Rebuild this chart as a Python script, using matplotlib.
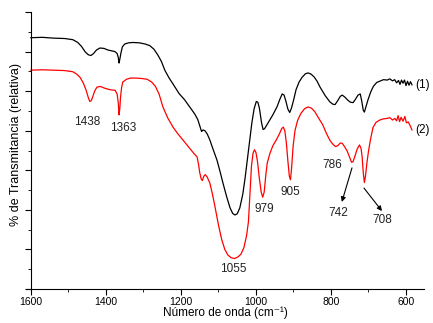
import numpy as np
import matplotlib.pyplot as plt
from matplotlib.ticker import MultipleLocator

plt.rcParams['font.family'] = ['Liberation Sans', 'DejaVu Sans']

# espectro (1)
wn1 = [1600, 1570, 1540, 1510, 1488, 1475, 1465, 1455, 1447, 1440, 1433, 1425,
       1416, 1405, 1395, 1385, 1376, 1370, 1367, 1365, 1363, 1360, 1356, 1350,
       1340, 1328, 1310, 1295, 1283, 1272, 1262, 1252, 1243, 1232, 1221, 1205,
       1190, 1175, 1163, 1155, 1149, 1145, 1141, 1136, 1130, 1123, 1115, 1104,
       1096, 1088, 1078, 1069, 1062, 1056, 1050, 1043, 1035, 1029, 1024, 1018,
       1011, 1005, 999, 995, 991, 985, 981, 977, 970, 963, 955, 944, 936, 930,
       925, 920, 915, 910, 905, 900, 893, 885, 877, 868, 861, 853, 845, 837,
       829, 815, 803, 795, 789, 782, 775, 770, 763, 755, 748, 741, 735, 728,
       722, 718, 714, 711, 707, 701, 694, 687, 678, 668, 660, 650, 643, 636,
       630, 625, 620, 616, 612, 608, 604, 600, 596, 592, 588, 584]
t1 = [63.5, 63.6, 63.4, 63.3, 63.0, 62.3, 61.3, 59.9, 59.2, 59.0, 59.5, 60.4,
      60.9, 60.8, 60.4, 60.2, 60.0, 59.5, 58.5, 57.1, 58.0, 59.6, 61.2, 61.9,
      62.2, 62.3, 62.2, 61.9, 61.5, 60.6, 59.2, 57.5, 55.3, 53.4, 51.8, 49.4,
      47.8, 45.8, 44.2, 42.8, 41.0, 39.8, 40.2, 40.0, 39.2, 37.7, 35.5, 32.6,
      29.8, 26.8, 23.3, 20.5, 19.1, 18.7, 19.0, 20.5, 24.0, 28.0, 31.8, 36.5,
      41.9, 45.5, 47.4, 47.2, 45.8, 42.0, 40.3, 40.5, 41.6, 42.7, 44.0, 46.0,
      48.0, 49.3, 49.0, 47.4, 45.5, 44.6, 45.8, 47.6, 50.4, 52.3, 53.5, 54.4,
      54.6, 54.3, 53.6, 52.5, 51.0, 48.8, 47.3, 46.7, 46.6, 47.6, 48.7, 49.0,
      48.5, 47.7, 47.2, 47.1, 47.9, 49.0, 49.3, 47.5, 45.2, 44.7, 46.0, 47.9,
      49.8, 51.2, 52.2, 52.6, 52.9, 52.8, 53.1, 52.6, 52.9, 52.1, 52.7, 51.7,
      52.8, 52.0, 52.8, 51.4, 52.5, 51.5, 52.4, 51.6]

# espectro (2)
wn2 = [1600, 1570, 1540, 1510, 1488, 1478, 1469, 1460, 1453, 1447, 1443, 1439,
       1435, 1430, 1424, 1415, 1405, 1395, 1385, 1375, 1370, 1367, 1365, 1363,
       1361, 1358, 1355, 1345, 1335, 1320, 1305, 1290, 1278, 1268, 1258, 1248,
       1235, 1221, 1208, 1195, 1180, 1165, 1157, 1153, 1150, 1146, 1143, 1139,
       1135, 1130, 1123, 1116, 1109, 1100, 1091, 1083, 1075, 1066, 1057, 1048,
       1040, 1032, 1025, 1020, 1016, 1012, 1008, 1004, 1000, 996, 991, 986,
       982, 978, 974, 970, 963, 955, 945, 937, 931, 927, 923, 919, 915, 911,
       908, 905, 901, 896, 889, 880, 870, 861, 852, 843, 833, 822, 812, 803,
       795, 788, 782, 775, 770, 764, 757, 750, 745, 741, 736, 730, 724, 720,
       717, 714, 711, 708, 704, 700, 695, 688, 680, 670, 660, 650, 643, 636,
       630, 625, 621, 617, 613, 608, 603, 599, 594, 589, 584]
t2 = [55.3, 55.4, 55.3, 55.2, 54.9, 54.3, 53.5, 52.0, 50.3, 48.4, 47.4, 47.6,
      48.6, 50.0, 51.0, 51.2, 50.8, 50.5, 50.3, 50.2, 49.2, 47.0, 44.0, 45.5,
      48.5, 51.0, 52.3, 53.0, 53.3, 53.3, 53.2, 53.0, 52.3, 51.2, 49.2, 46.0,
      43.2, 40.9, 39.2, 37.7, 36.0, 34.2, 33.4, 31.5, 29.5, 27.8, 27.4, 28.5,
      28.9, 28.3, 26.8, 24.0, 20.7, 16.2, 12.4, 10.0, 8.6, 7.9, 7.7, 8.1,
      8.8, 10.5, 13.5, 17.0, 24.0, 31.0, 34.2, 35.2, 34.5, 32.3, 28.0, 24.5,
      23.2, 24.5, 28.5, 31.8, 34.2, 36.2, 37.8, 39.3, 40.6, 40.9, 40.0, 37.0,
      32.5, 28.5, 27.6, 30.5, 36.0, 40.0, 42.6, 44.4, 45.6, 46.0, 45.7, 44.8,
      43.2, 41.5, 39.3, 37.6, 36.6, 36.0, 36.2, 36.9, 36.8, 36.0, 34.9, 33.2,
      32.0, 32.2, 33.6, 35.4, 36.4, 35.6, 33.5, 29.5, 26.9, 28.5, 32.0, 34.8,
      37.6, 40.8, 42.1, 42.7, 43.0, 43.1, 43.3, 42.7, 43.1, 42.5, 43.8, 42.3,
      43.4, 42.4, 43.6, 42.0, 42.2, 41.3, 40.2]

# bandas marcadas: texto, x, y
bandas = [('1438', 1451, 42.2), ('1363', 1355, 40.7), ('1055', 1061, 5.0),
          ('979', 979, 20.2), ('905', 909, 24.5), ('786', 797, 31.3),
          ('742', 781, 19.2), ('708', 664, 17.4)]
flechas = [((744, 30.6), (771, 22.0)), ((712, 25.5), (664, 19.7))]

fig = plt.figure(figsize=(4.33, 3.23), dpi=100)
ax = fig.add_axes([26 / 433, 34 / 323, 398 / 433, 277 / 323])

ax.plot(wn1, t1, color='black', lw=0.9)
ax.plot(wn2, t2, color='red', lw=0.9)

for txt, x, y in bandas:
    ax.text(x, y, txt, ha='center', va='center', fontsize=8.5, color='#222222')
for (x0, y0), (x1, y1) in flechas:
    ax.annotate('', xy=(x1, y1), xytext=(x0, y0),
                arrowprops=dict(arrowstyle='-|>', color='black', lw=0.8,
                                mutation_scale=7, shrinkA=0, shrinkB=0))

ax.text(575, 51.6, '(1)', ha='left', va='center', fontsize=8.5, clip_on=False)
ax.text(575, 40.2, '(2)', ha='left', va='center', fontsize=8.5, clip_on=False)

ax.set_xlim(1613, 552)
ax.set_ylim(0, 70)
ax.spines['top'].set_visible(False)
ax.spines['right'].set_visible(False)
ax.spines['left'].set_position(('data', 1600))
ax.xaxis.set_major_locator(MultipleLocator(200))
ax.xaxis.set_minor_locator(MultipleLocator(100))
ax.yaxis.set_major_locator(MultipleLocator(10))
ax.yaxis.set_minor_locator(MultipleLocator(5))
ax.set_yticklabels([])
ax.tick_params(which='major', length=4, direction='out', labelsize=7.5, pad=1.5)
ax.tick_params(which='minor', length=2, direction='out')

ax.set_xlabel('Número de onda (cm⁻¹)', fontsize=8.5, labelpad=0)
fig.text(16 / 433, 1 - 144 / 323, '% de Transmitancia (relativa)', rotation=90,
         ha='center', va='center', fontsize=9)

fig.savefig('out.png', dpi=100)
